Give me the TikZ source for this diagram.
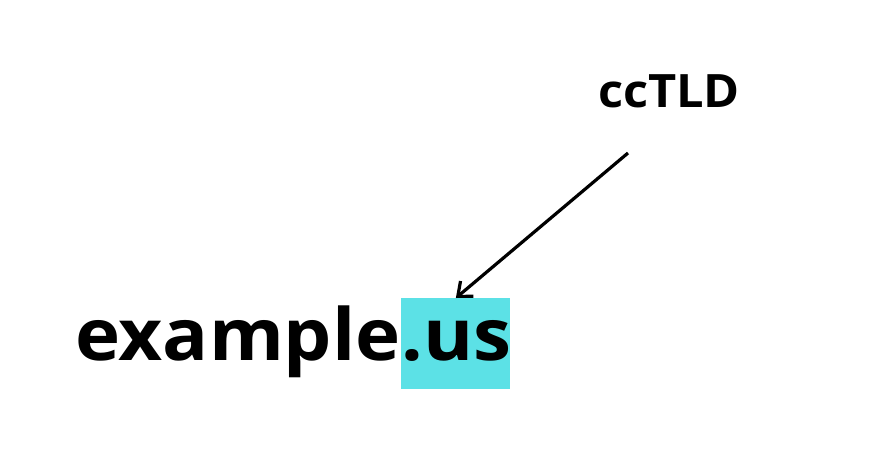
\documentclass[tikz,border=0pt]{standalone}
\usepackage{fontspec}
\setmainfont[FakeStretch=1.06]{Open Sans}
\usetikzlibrary{arrows.meta}
\definecolor{tldcyan}{RGB}{92,225,230}
\tikzset{every picture/.style={line width=0.75pt}}
\begin{document}
\begin{tikzpicture}[x=1pt,y=1pt,yscale=-1,xscale=1]
\useasboundingbox (0,0) rectangle (877,465);

% Shape: Rectangle
\node [fill=tldcyan, inner sep=0, minimum width=109, minimum height=91, anchor=north west] (usbox) at (401,298) {};

% Text Node
\node [anchor=base east, inner sep=0, font=\fontsize{72}{72}\selectfont\bfseries] (name) at (401,360) {example};
% Text Node
\node [anchor=base west, inner sep=0, font=\fontsize{72}{72}\selectfont\bfseries] (tld) at (401,360) {.us};
% Text Node
\node [anchor=base, inner sep=0, font=\fontsize{46}{46}\selectfont\bfseries] (label) at (669,108) {ccTLD};

\coordinate (tail) at (628,153);
%Straight Lines
\draw [line width=3.2pt, -{Straight Barb[length=12pt, width=20pt]}] (tail) -- (usbox.north);
\end{tikzpicture}
\end{document}
